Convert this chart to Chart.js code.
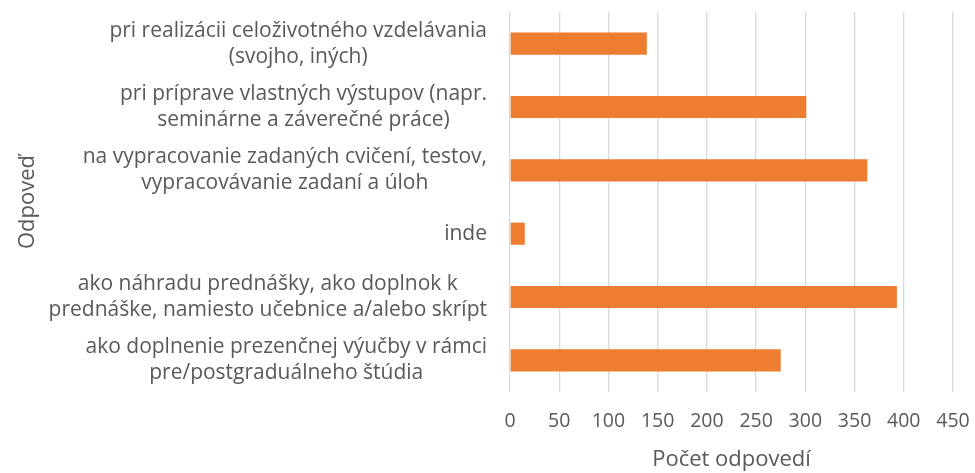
<!DOCTYPE html>
<html>
<head>
<meta charset="utf-8">
<script src="https://cdn.jsdelivr.net/npm/chart.js@4/dist/chart.umd.min.js"></script>
<style>
  html, body { margin: 0; padding: 0; background: #fff; }
  #wrap { width: 975px; height: 473px; }
</style>
</head>
<body>
<div id="wrap"><canvas id="chart"></canvas></div>
<script>
// categories, top to bottom (each one already wrapped like in the original)
const categories = [
    ['pri realizácii celoživotného vzdelávania', '(svojho, iných)'],
    ['pri príprave vlastných výstupov (napr.', 'seminárne a záverečné práce)'],
    ['na vypracovanie zadaných cvičení, testov,', 'vypracovávanie zadaní a úloh'],
    ['inde'],
    ['ako náhradu prednášky, ako doplnok k', 'prednáške, namiesto učebnice a/alebo skrípt'],
    ['ako doplnenie prezenčnej výučby v rámci', 'pre/postgraduálneho štúdia']
];
const counts = [139, 301, 363, 15, 393, 275];
const xTicks = [0, 50, 100, 150, 200, 250, 300, 350, 400, 450];

const FONT = '"Open Sans", sans-serif';
const GREY = '#595959';
const LABEL_SIZE = 21;
const LINE_H = 26;

// Excel style category labels: each block right aligned, lines centred inside the block
const catLabels = {
    id: 'catLabels',
    afterDraw(chart) {
        const y = chart.scales.y;
        const ctx = chart.ctx;
        const right = y.right - 23;
        ctx.save();
        ctx.font = LABEL_SIZE + 'px ' + FONT;
        ctx.fillStyle = GREY;
        ctx.textAlign = 'center';
        ctx.textBaseline = 'middle';
        categories.forEach((lines, i) => {
            const w = Math.max(...lines.map(l => ctx.measureText(l).width));
            const cx = right - w / 2;
            const cy = y.getPixelForTick(i);
            lines.forEach((l, j) => {
                ctx.fillText(l, cx, cy + (j - (lines.length - 1) / 2) * LINE_H);
            });
        });
        ctx.restore();
    }
};

new Chart(document.getElementById('chart'), {
    type: 'bar',
    data: {
        labels: categories,
        datasets: [{
            label: 'Počet odpovedí',
            data: counts,
            backgroundColor: '#ED7D31',
            borderWidth: 0,
            categoryPercentage: 1,
            barPercentage: 0.35
        }]
    },
    options: {
        indexAxis: 'y',
        responsive: true,
        maintainAspectRatio: false,
        animation: false,
        layout: { padding: { top: 12, right: 0, left: 0, bottom: 0 } },
        plugins: {
            legend: { display: false },
            tooltip: { enabled: false }
        },
        scales: {
            x: {
                min: 0,
                max: 450,
                afterBuildTicks: s => { s.ticks = xTicks.map(v => ({ value: v })); },
                grid: { color: '#d9d9d9', lineWidth: 1.3, drawTicks: false },
                border: { display: false },
                ticks: {
                    color: GREY,
                    font: { family: FONT, size: 19.5 },
                    padding: 18
                },
                title: {
                    display: true,
                    text: 'Počet odpovedí',
                    color: GREY,
                    font: { family: FONT, size: 22 },
                    padding: { top: 8, bottom: 0 }
                },
                afterFit: s => { s.height = 81; s.paddingRight = 22; }
            },
            y: {
                grid: { display: false, drawTicks: false },
                border: { display: false },
                ticks: { color: 'rgba(0,0,0,0)', font: { family: FONT, size: 12 } },
                title: {
                    display: true,
                    text: 'Odpoveď',
                    color: GREY,
                    font: { family: FONT, size: 22 },
                    padding: { top: 15, bottom: 0 }
                },
                afterFit: s => { s.width = 510; s.paddingTop = 0; s.paddingBottom = 0; }
            }
        }
    },
    plugins: [catLabels]
});
</script>
</body>
</html>
